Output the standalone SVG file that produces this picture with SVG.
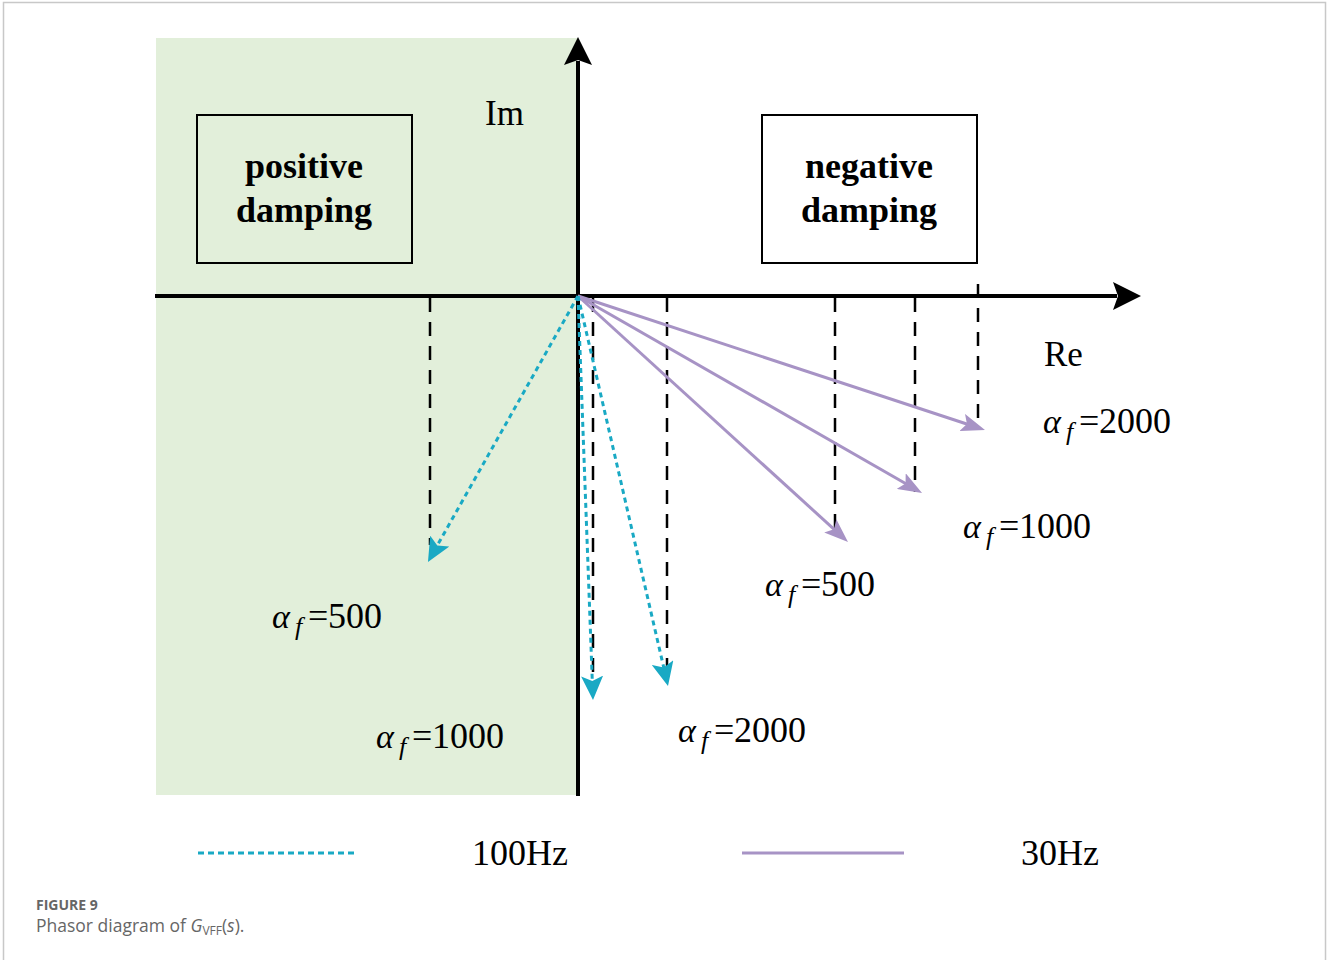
<svg xmlns="http://www.w3.org/2000/svg" width="1329" height="960" viewBox="0 0 1329 960">
<style>
.ax{stroke:#000;stroke-width:4;fill:none}
.dash{stroke:#000;stroke-width:2.5;stroke-dasharray:14 10;fill:none}
.pur{stroke:#a793c5;stroke-width:3;fill:none;marker-end:url(#hp)}
.cy{stroke:#19a9c4;stroke-width:3;stroke-dasharray:5 4;fill:none;marker-end:url(#hc)}
.box{fill:none;stroke:#000;stroke-width:2}
.bt{font-family:"Liberation Serif",serif;font-weight:bold;font-size:36px;text-anchor:middle}
.t{font-family:"Liberation Serif",serif;font-size:35px;fill:#000}
.n{font-family:"Liberation Serif",serif;font-size:36px;fill:#000}
.al{font-family:"Liberation Serif","DejaVu Serif",serif;font-style:italic;font-size:34px;fill:#000}
.sub{font-family:"Liberation Serif",serif;font-style:italic;font-size:26px;fill:#000}
.cap{font-family:"Open Sans","Noto Sans",sans-serif;fill:#666}
</style>
<defs>
<marker id="hp" viewBox="0 0 24 18" refX="16" refY="9" markerWidth="24" markerHeight="18" markerUnits="userSpaceOnUse" orient="auto">
<path d="M0,0 L24,9 L0,18 L5,9 z" fill="#a793c5"/>
</marker>
<marker id="hc" viewBox="0 0 24 22" refX="16" refY="11" markerWidth="24" markerHeight="22" markerUnits="userSpaceOnUse" orient="auto">
<path d="M0,0 L24,11 L0,22 L5,11 z" fill="#19a9c4"/>
</marker>
<marker id="ha" viewBox="0 0 28 28" refX="4" refY="14" markerWidth="28" markerHeight="28" markerUnits="userSpaceOnUse" orient="auto">
<path d="M0,0 L28,14 L0,28 L5,14 z" fill="#000"/>
</marker>
</defs>
<rect x="3.5" y="2.5" width="1322" height="970" fill="#fff" stroke="#c8c8c8" stroke-width="1.5"/>
<g id="region-positive">
<rect x="156" y="38" width="422" height="757" fill="#e2efda"/>
</g>
<g id="guides">
<line class="dash" x1="430" y1="298" x2="430" y2="545"/>
<line class="dash" x1="593" y1="298" x2="593" y2="690"/>
<line class="dash" x1="667" y1="298" x2="667" y2="670"/>
<line class="dash" x1="835" y1="298" x2="835" y2="530"/>
<line class="dash" x1="915" y1="298" x2="915" y2="492"/>
<line class="dash" x1="978" y1="284" x2="978" y2="428"/>
</g>
<g id="axes">
<line class="ax" x1="578" y1="796" x2="578" y2="61" marker-end="url(#ha)"/>
<line class="ax" x1="155" y1="296" x2="1117" y2="296" marker-end="url(#ha)"/>
<text class="t" x="485" y="125">Im</text>
<text class="t" x="1044" y="366">Re</text>
</g>
<g id="box-positive">
<rect class="box" x="197" y="115" width="215" height="148"/>
<text class="bt" x="304" y="178">positive</text>
<text class="bt" x="304" y="222">damping</text>
</g>
<g id="box-negative">
<rect class="box" x="762" y="115" width="215" height="148"/>
<text class="bt" x="869" y="178">negative</text>
<text class="bt" x="869" y="222">damping</text>
</g>
<g id="connectors">
<line class="pur" x1="578" y1="296" x2="977.4" y2="427.5"/>
<line class="pur" x1="578" y1="296" x2="915.1" y2="489"/>
<line class="pur" x1="578" y1="296" x2="842.1" y2="536.6"/>
<line class="cy" x1="578" y1="296" x2="431.9" y2="555"/>
<line class="cy" x1="578" y1="296" x2="592.7" y2="692"/>
<line class="cy" x1="578" y1="296" x2="666.2" y2="678.2"/>
</g>
<g id="label-p2000">
<text class="al" x="1043" y="433">α</text><text class="sub" x="1066" y="440">f</text><text class="n" x="1079" y="433">=</text><text class="n" x="1099" y="433">2000</text>
</g>
<g id="label-p1000">
<text class="al" x="963" y="538">α</text><text class="sub" x="986" y="545">f</text><text class="n" x="999" y="538">=</text><text class="n" x="1019" y="538">1000</text>
</g>
<g id="label-p500">
<text class="al" x="765" y="596">α</text><text class="sub" x="788" y="603">f</text><text class="n" x="801" y="596">=</text><text class="n" x="821" y="596">500</text>
</g>
<g id="label-c500">
<text class="al" x="272" y="628">α</text><text class="sub" x="295" y="635">f</text><text class="n" x="308" y="628">=</text><text class="n" x="328" y="628">500</text>
</g>
<g id="label-c1000">
<text class="al" x="376" y="748">α</text><text class="sub" x="399" y="755">f</text><text class="n" x="412" y="748">=</text><text class="n" x="432" y="748">1000</text>
</g>
<g id="label-c2000">
<text class="al" x="678" y="742">α</text><text class="sub" x="701" y="749">f</text><text class="n" x="714" y="742">=</text><text class="n" x="734" y="742">2000</text>
</g>
<g id="legend">
<line x1="198" y1="853" x2="357" y2="853" stroke="#19a9c4" stroke-width="3" stroke-dasharray="6 4"/>
<text class="n" x="472" y="865">100Hz</text>
<line x1="742" y1="853" x2="904" y2="853" stroke="#a793c5" stroke-width="3"/>
<text class="n" x="1021" y="865">30Hz</text>
</g>
<g id="caption">
<text class="cap" x="36" y="910" font-size="14" font-weight="bold" fill="#555">FIGURE 9</text>
<text class="cap" x="36" y="932" font-size="17.5">Phasor diagram of <tspan font-style="italic">G</tspan><tspan font-size="12" dy="3">VFF</tspan><tspan dy="-3">(</tspan><tspan font-style="italic">s</tspan>).</text>
</g>
</svg>
